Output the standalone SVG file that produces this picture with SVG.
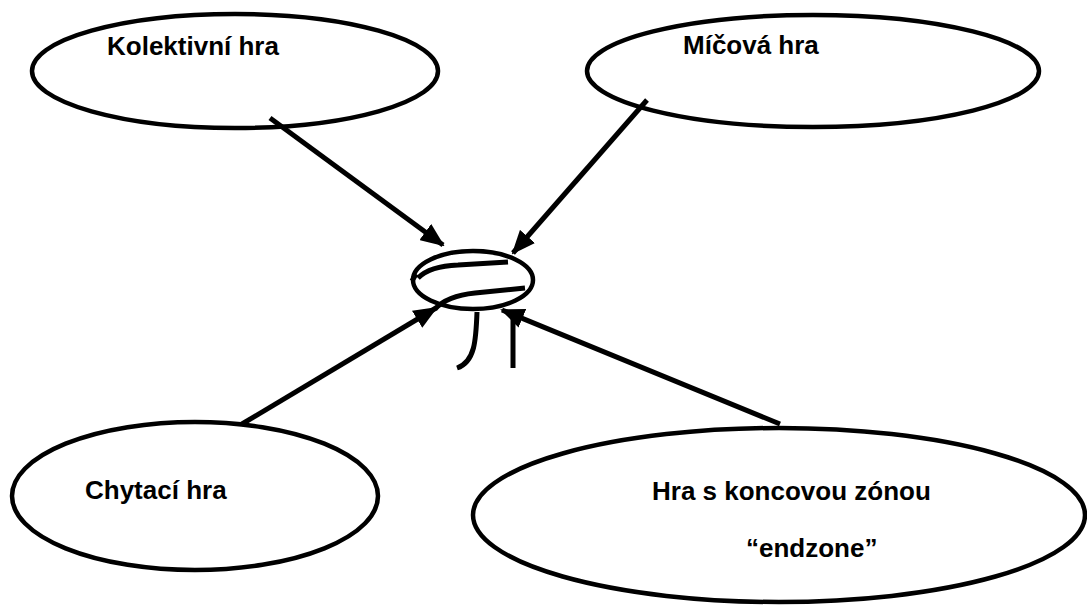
<svg xmlns="http://www.w3.org/2000/svg" width="1087" height="615" viewBox="0 0 1087 615">
  <style>
    .node { fill: #ffffff; stroke: #000000; stroke-width: 4.5; }
    .label { font-family: "Liberation Sans", Arial, sans-serif; font-weight: bold; font-size: 26px; fill: #000000; }
    .edge { stroke: #000000; stroke-width: 5; fill: none; marker-end: url(#head); }
    .ink { stroke: #000000; stroke-width: 5; fill: none; }
  </style>
  <defs>
    <marker id="head" markerUnits="userSpaceOnUse" markerWidth="24" markerHeight="20" viewBox="0 0 24 20" refX="22" refY="10" orient="auto">
      <path d="M0,0 L24,10 L0,20 Z" fill="#000000"/>
    </marker>
  </defs>

  <rect width="1087" height="615" fill="#ffffff"/>

  <g id="node-kolektivni">
    <ellipse class="node" cx="235" cy="71" rx="203" ry="57"/>
    <text class="label" x="107" y="55">Kolektivní hra</text>
  </g>

  <g id="node-micova">
    <ellipse class="node" cx="813" cy="71" rx="226" ry="56"/>
    <text class="label" x="683" y="54">Míčová hra</text>
  </g>

  <g id="node-chytaci">
    <ellipse class="node" cx="195" cy="496" rx="183" ry="74"/>
    <text class="label" x="85" y="499">Chytací hra</text>
  </g>

  <g id="node-endzone">
    <ellipse class="node" cx="779" cy="515" rx="306" ry="87"/>
    <text class="label" x="652" y="500">Hra s koncovou zónou</text>
    <text class="label" x="746" y="557">“endzone”</text>
  </g>

  <!-- small hand-drawn ball figure in the middle -->
  <g id="node-center">
    <ellipse class="node" cx="473" cy="280" rx="60" ry="29"/>
    <path class="ink" d="M418,278 Q430,266 458,265 L508,262"/>
    <path class="ink" d="M435,309 Q447,296 475,293 L525,288"/>
    <path class="ink" stroke-width="3" d="M416,274 L412,281"/>
    <path class="ink" d="M477,312 C476,340 475,362 457,368"/>
    <path class="ink" d="M513,310 L513,368"/>
  </g>

  <g id="connectors">
    <line class="edge" x1="270" y1="118" x2="443" y2="245"/>
    <line class="edge" x1="647" y1="100" x2="513" y2="253"/>
    <line class="edge" x1="242" y1="424" x2="436" y2="308"/>
    <line class="edge" x1="780" y1="424" x2="502" y2="310"/>
  </g>
</svg>
